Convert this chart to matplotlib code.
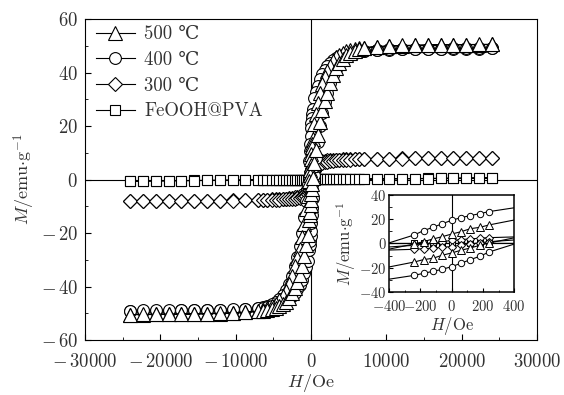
import matplotlib
matplotlib.use("Agg")
import matplotlib.pyplot as plt
from matplotlib.ticker import MultipleLocator, FuncFormatter

plt.rcParams['font.family'] = ['cmr10', 'DejaVu Serif']
plt.rcParams['mathtext.fontset'] = 'cm'
plt.rcParams['axes.formatter.use_mathtext'] = True
plt.rcParams['axes.unicode_minus'] = True

# descending branch of each loop (ascending one is the mirror image)
field = [24000, 22300, 20600, 18900, 17200, 15500, 13800, 12100, 10400, 8700,
         7000, 6400, 5800, 5200, 4700, 4200, 3700, 3300, 2900, 2500,
         2100, 1800, 1500, 1200, 900, 650, 450, 240, 180, 120,
         60, 0, -60, -120, -180, -240, -450, -650, -900, -1200,
         -1500, -1800, -2100, -2500, -2900, -3300, -3700, -4200, -4700, -5200,
         -5800, -6400, -7000, -8700, -10400, -12100, -13800, -15500, -17200, -18900,
         -20600, -22300, -24000]

m_500 = [50.5, 50.45, 50.4, 50.35, 50.3, 50.2, 50.1, 50.0, 49.8, 49.6,
         49.3, 49.1, 48.8, 48.4, 48.0, 47.4, 46.6, 45.7, 44.4, 42.6,
         40.4, 38.3, 35.8, 32.5, 28.5, 24.5, 20.6, 15.3, 13.3, 12.2,
         9.7, 7.8, 5.6, 3.7, 1.5, -0.4, -6.0, -11.0, -16.5, -21.5,
         -26.0, -29.5, -32.5, -36.0, -39.0, -41.5, -43.4, -45.2, -46.5, -47.4,
         -48.2, -48.8, -49.2, -49.7, -50.0, -50.1, -50.2, -50.3, -50.35, -50.4,
         -50.45, -50.5, -50.5]

m_400 = [49.0, 48.95, 48.9, 48.85, 48.8, 48.75, 48.7, 48.6, 48.5, 48.3,
         48.1, 47.9, 47.7, 47.4, 47.1, 46.7, 46.1, 45.5, 44.7, 43.6,
         42.3, 41.0, 39.4, 37.5, 35.0, 32.6, 30.4, 26.3, 24.6, 23.0,
         21.3, 19.1, 16.3, 13.3, 10.6, 7.0, -1.5, -8.0, -14.0, -20.0,
         -25.0, -29.0, -32.5, -36.0, -39.0, -41.3, -43.0, -44.6, -45.7, -46.5,
         -47.2, -47.7, -48.0, -48.5, -48.7, -48.8, -48.85, -48.9, -48.95, -49.0,
         -49.0, -49.0, -49.0]

m_300 = [8.05, 8.0, 8.0, 8.0, 7.97, 7.95, 7.93, 7.9, 7.85, 7.8,
         7.75, 7.7, 7.65, 7.6, 7.55, 7.5, 7.45, 7.4, 7.35, 7.25,
         7.15, 7.05, 6.9, 6.7, 6.4, 6.0, 5.6, 4.8, 4.3, 3.8,
         3.2, 2.5, 1.5, 0.5, -0.5, -1.5, -3.3, -4.3, -5.2, -5.8,
         -6.2, -6.5, -6.7, -6.9, -7.05, -7.15, -7.25, -7.35, -7.4, -7.45,
         -7.5, -7.55, -7.6, -7.7, -7.8, -7.85, -7.9, -7.93, -7.95, -7.97,
         -8.0, -8.0, -8.05]

m_feooh = [0.6, 0.56, 0.52, 0.48, 0.44, 0.4, 0.36, 0.32, 0.28, 0.24,
           0.2, 0.18, 0.17, 0.15, 0.14, 0.12, 0.11, 0.1, 0.09, 0.08,
           0.07, 0.06, 0.05, 0.04, 0.03, 0.02, 0.015, 0.01, 0.008, 0.006,
           0.004, 0.002, 0.0, -0.002, -0.004, -0.006, -0.01, -0.015, -0.02, -0.03,
           -0.04, -0.05, -0.06, -0.07, -0.08, -0.09, -0.1, -0.11, -0.12, -0.14,
           -0.15, -0.17, -0.18, -0.2, -0.24, -0.28, -0.32, -0.36, -0.4, -0.44,
           -0.48, -0.52, -0.6]

labels = ['500 \u2103', '400 \u2103', '300 \u2103', 'FeOOH@PVA']
markers = ['^', 'o', 'D', 's']
main_ms = [9.5, 8.5, 7.2, 7]
inset_ms = [5.2, 4.6, 4.2, 4]
layers = [5, 4, 3, 2]
series = [m_500, m_400, m_300, m_feooh]
text_grey = '#333333'


def loop(m):
    # full loop: descending branch followed by its mirror
    x = field + [-h for h in field]
    y = m + [-v for v in m]
    return x, y


def tick_fmt(v, pos):
    if v < 0:
        return r'$-\,%d$' % abs(v)
    return r'$%d$' % v


def inset_fmt(v, pos):
    return r'$%d$' % v


fig = plt.figure(figsize=(5.64, 3.95), dpi=100)
ax = fig.add_axes([0.1507, 0.1392, 0.8014, 0.8127])

ax.axhline(0, color='black', lw=0.8, zorder=1)
ax.axvline(0, color='black', lw=0.8, zorder=1)
for m, mk, ms, lab, z in zip(series, markers, main_ms, labels, layers):
    x, y = loop(m)
    ax.plot(x, y, color='black', lw=0.8, marker=mk, ms=ms, mfc='white',
            mec='black', mew=0.8, label=lab, zorder=z)

ax.set_xlim(-30000, 30000)
ax.set_ylim(-60, 60)
ax.xaxis.set_major_locator(MultipleLocator(10000))
ax.xaxis.set_minor_locator(MultipleLocator(5000))
ax.yaxis.set_major_locator(MultipleLocator(20))
ax.yaxis.set_minor_locator(MultipleLocator(10))
ax.xaxis.set_major_formatter(FuncFormatter(tick_fmt))
ax.yaxis.set_major_formatter(FuncFormatter(tick_fmt))
ax.tick_params(which='both', direction='in', labelsize=13.5,
               color='black', labelcolor=text_grey)
ax.tick_params(which='major', length=4)
ax.tick_params(which='minor', length=2.5)
ax.tick_params(axis='x', pad=9)
ax.tick_params(axis='y', pad=5)
ax.set_xlabel(r'$H/\mathrm{Oe}$', fontsize=13, labelpad=1, color=text_grey)
ax.set_ylabel(r'$M/\mathrm{emu{\cdot}g}^{-1}$', fontsize=13, labelpad=3,
              color=text_grey)
leg = ax.legend(loc='upper left', bbox_to_anchor=(0.01, 1.0), frameon=False,
                fontsize=13.5, handlelength=2.1, borderaxespad=0.0,
                borderpad=0.33, labelspacing=0.42, handletextpad=0.5)
for t in leg.get_texts():
    t.set_color(text_grey)

# inset: low field region
ins = fig.add_axes([0.690, 0.2608, 0.2216, 0.2456])
ins.axhline(0, color='black', lw=0.8, zorder=1)
ins.axvline(0, color='black', lw=0.8, zorder=1)
for m, mk, ms, z in zip(series, markers, inset_ms, layers):
    x, y = loop(m)
    ins.plot(x, y, color='black', lw=0.8, marker=mk, ms=ms, mfc='white',
             mec='black', mew=0.7, zorder=z)
ins.set_xlim(-400, 400)
ins.set_ylim(-40, 40)
ins.xaxis.set_major_locator(MultipleLocator(200))
ins.xaxis.set_minor_locator(MultipleLocator(100))
ins.yaxis.set_major_locator(MultipleLocator(20))
ins.yaxis.set_minor_locator(MultipleLocator(10))
ins.xaxis.set_major_formatter(FuncFormatter(inset_fmt))
ins.yaxis.set_major_formatter(FuncFormatter(inset_fmt))
ins.tick_params(which='both', direction='in', labelsize=10.5,
                labelcolor=text_grey)
ins.tick_params(axis='x', pad=5)
ins.tick_params(axis='y', pad=2)
ins.tick_params(which='major', length=3)
ins.tick_params(which='minor', length=1.8)
for s in ins.spines.values():
    s.set_linewidth(1.1)
ins.set_xlabel(r'$H/\mathrm{Oe}$', fontsize=12, labelpad=1, color=text_grey)
ins.set_ylabel(r'$M/\mathrm{emu{\cdot}g}^{-1}$', fontsize=12, labelpad=1,
               color=text_grey)

fig.savefig('out.png', dpi=100)
